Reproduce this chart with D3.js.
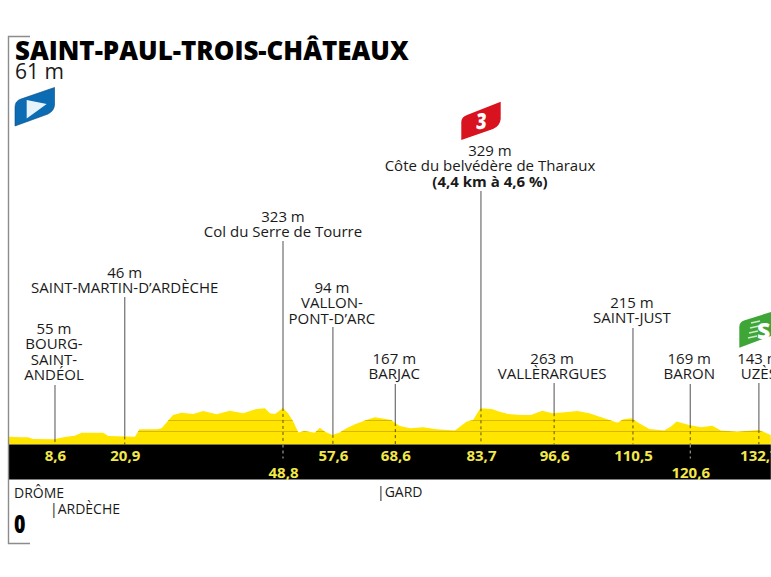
<!DOCTYPE html>
<html>
<head>
<meta charset="utf-8">
<script src="https://cdn.jsdelivr.net/npm/d3@7"></script>
<style>
html, body { margin: 0; padding: 0; background: #fff; overflow: hidden; }
svg { display: block; font-family: "Open Sans", sans-serif; }
</style>
</head>
<body>
<svg width="771" height="577"></svg>
<script>
// profile: km and metres
const profileKm = [0.4, 0.62, 2.4, 3.85, 4.7, 8.4, 10.6, 12.1, 13.3, 17.1, 18, 22.7, 23.5, 26.5, 27.4, 29.4, 30.9, 33, 34.7, 37.1, 39.4, 41.8, 44.1, 45.6, 46.5, 47.4, 48.8, 49.7, 50.6, 51.5, 52.6, 54.4, 55.3, 56.2, 57.5, 58.8, 60, 61.5, 63.5, 65, 67.9, 68.5, 69.4, 71.2, 73.5, 75.9, 79.1, 81.2, 82.3, 83.6, 85.6, 87, 88.5, 90.7, 92.5, 94.5, 96.3, 98.5, 100.7, 102.8, 104.9, 107.8, 108.7, 110.2, 111.6, 113.4, 116, 117.2, 118.2, 120.4, 122.5, 124.5, 126, 128.9, 132.7, 134.8];
const profileEle = [53, 53, 47, 47, 32, 29, 53, 62, 89, 89, 59, 53, 120, 120, 129, 250, 271, 259, 286, 256, 289, 265, 305, 311, 265, 259, 314, 265, 190, 92, 105, 89, 135, 98, 68, 92, 129, 165, 205, 229, 205, 180, 150, 129, 138, 120, 108, 190, 205, 311, 305, 280, 259, 250, 250, 289, 265, 274, 286, 265, 229, 180, 208, 220, 174, 123, 108, 145, 190, 159, 138, 153, 108, 98, 114, 68];

const placeKm = [8.6, 20.9, 48.8, 57.6, 68.6, 83.7, 96.6, 110.5, 120.6, 132.7];
const kmLabels = ["8,6", "20,9", "48,8", "57,6", "68,6", "83,7", "96,6", "110,5", "120,6", "132,7"];
const lowKm = [48.8, 120.6];
const placeLabels = [
  ["55 m", "BOURG-", "SAINT-", "ANDÉOL"],
  ["46 m", "SAINT-MARTIN-D’ARDÈCHE"],
  ["323 m", "Col du Serre de Tourre"],
  ["94 m", "VALLON-", "PONT-D’ARC"],
  ["167 m", "BARJAC"],
  ["329 m", "Côte du belvédère de Tharaux", "(4,4 km à 4,6 %)"],
  ["263 m", "VALLÈRARGUES"],
  ["215 m", "SAINT-JUST"],
  ["169 m", "BARON"],
  ["143 m", "UZÈS"]
];
const gridEle = [100, 200];

// layout only
const labelBaseline = [334, 278, 222, 293, 364, 156, 364, 308, 364, 364];
const labelShift = [-1, 0, 0, -1, -1, 9, -2, -1, -1, 0];
const lineTop = [385, 297, 241, 327, 384, 191, 383, 328, 384, 383];

const svg = d3.select("svg");
const x = d3.scaleLinear().domain([0, 134.8]).range([6.2, 770.8]);
const y = d3.scaleLinear().domain([0, 329]).range([442.5, 406.3]);
const bandTop = 444.5, bandBottom = 479.5;

const profile = profileKm.map((k, i) => [k, profileEle[i]]);
const eleAt = km => {
  const i = d3.bisector(d => d[0]).left(profile, km);
  const a = profile[Math.max(i - 1, 0)], b = profile[i];
  return a[1] + (b[1] - a[1]) * (km - a[0]) / ((b[0] - a[0]) || 1);
};

// yellow profile
const area = d3.area().x(d => x(d[0])).y0(bandTop).y1(d => y(d[1]));
svg.append("clipPath").attr("id", "inProfile").append("path").attr("d", area(profile));
svg.append("path").attr("d", area(profile)).attr("fill", "#ffe500");
svg.append("g").attr("clip-path", "url(#inProfile)")
  .selectAll("line").data(gridEle).enter().append("line")
  .attr("x1", x(0)).attr("x2", x(134.8))
  .attr("y1", d => y(d)).attr("y2", d => y(d))
  .attr("stroke", "#d6b800").attr("stroke-width", 1);

// black band with km labels
svg.append("rect").attr("x", x(0.45)).attr("y", bandTop)
  .attr("width", x(134.8) - x(0.45)).attr("height", bandBottom - bandTop).attr("fill", "#000");

const axis = svg.append("g").attr("transform", "translate(0," + bandTop + ")")
  .call(d3.axisBottom(x).tickValues(placeKm).tickSize(0).tickFormat((d, i) => kmLabels[i]));
axis.select(".domain").remove();
axis.selectAll("text")
  .attr("y", d => lowKm.includes(d) ? 20 : 3)
  .attr("dy", "0.9em")
  .attr("fill", "#f2e84a")
  .style("font-family", "'Open Sans'")
  .style("font-size", "15px")
  .style("font-weight", 700);

// leader lines
placeKm.forEach((km, i) => {
  const px = x(km), top = y(eleAt(km));
  svg.append("line").attr("x1", px).attr("x2", px).attr("y1", lineTop[i]).attr("y2", top)
    .attr("stroke", "#6e6e6e").attr("stroke-width", 1.2);
  svg.append("line").attr("x1", px).attr("x2", px).attr("y1", top).attr("y2", bandTop)
    .attr("stroke", "#5a5200").attr("stroke-width", 1).attr("stroke-dasharray", "3 3");
  if (lowKm.includes(km)) {
    svg.append("line").attr("x1", px).attr("x2", px).attr("y1", bandTop).attr("y2", bandTop + 14)
      .attr("stroke", "#b8b8a0").attr("stroke-width", 1).attr("stroke-dasharray", "3 3");
  }
});

// place labels
placeLabels.forEach((lines, i) => {
  const t = svg.append("text").attr("text-anchor", "middle").attr("fill", "#1a1a1a").style("font-size", "15px");
  lines.forEach((s, j) => {
    t.append("tspan").attr("x", x(placeKm[i]) + labelShift[i]).attr("y", labelBaseline[i] + j * 15.4).text(s)
      .style("font-weight", s.startsWith("(") ? 700 : 400);
  });
});

// frame
svg.append("path").attr("d", "M30,36.5H8.5V543.5H30").attr("fill", "none").attr("stroke", "#8c8c8c").attr("stroke-width", 1.4);

// title
svg.append("text").attr("x", 15).attr("y", 60).attr("fill", "#000")
  .style("font-size", "25.9px").style("font-weight", 800).text("SAINT-PAUL-TROIS-CHÂTEAUX");
svg.append("text").attr("x", 15).attr("y", 79).attr("fill", "#1a1a1a")
  .style("font-size", "21px").text("61 m");

// departments
svg.append("text").attr("x", 14).attr("y", 498).attr("fill", "#1a1a1a").style("font-size", "14px").text("DRÔME");
svg.append("text").attr("x", 50).attr("y", 514).attr("fill", "#1a1a1a").style("font-size", "14px").text("|ARDÈCHE");
svg.append("text").attr("x", 377).attr("y", 497).attr("fill", "#1a1a1a").style("font-size", "14px").text("|GARD");
svg.append("text").attr("transform", "translate(14,533) scale(0.78,1)").attr("fill", "#000")
  .style("font-size", "25px").style("font-weight", 800).text("0");

// flags
svg.append("path").attr("d", "M15,126V107Q15,101 21,99L54.5,87.5V105Q54,111 48,114Z")
  .attr("fill", "#0b6bb3").attr("stroke", "#064a80").attr("stroke-width", 0.6);
svg.append("path").attr("d", "M26.7,100L46.7,104L26.7,118.5Z").attr("fill", "#e6f3fb");

svg.append("path").attr("d", "M461.3,140V122Q461.3,117 467,115L500.7,101.7V119Q500,126 493,129Z").attr("fill", "#d9121f");
svg.append("text").attr("transform", "translate(481,129) skewX(-4) scale(0.8,1)").attr("text-anchor", "middle")
  .attr("fill", "#fff").style("font-size", "22px").style("font-weight", 800).text("3");

svg.append("path").attr("d", "M739.3,347.7V327Q739.3,322 744,320.5L771,312V336Z").attr("fill", "#3ea636");
svg.selectAll(".speed").data([0, 1, 2, 3]).enter().append("line").attr("class", "speed")
  .attr("x1", d => 748 + d).attr("x2", d => 757 + d)
  .attr("y1", d => 338 - d * 5).attr("y2", d => 336 - d * 5)
  .attr("stroke", "#cfe9c8").attr("stroke-width", 1.6);
svg.append("text").attr("x", 757).attr("y", 339).attr("fill", "#fff")
  .style("font-size", "23px").style("font-weight", 800).text("S");
</script>
</body>
</html>
